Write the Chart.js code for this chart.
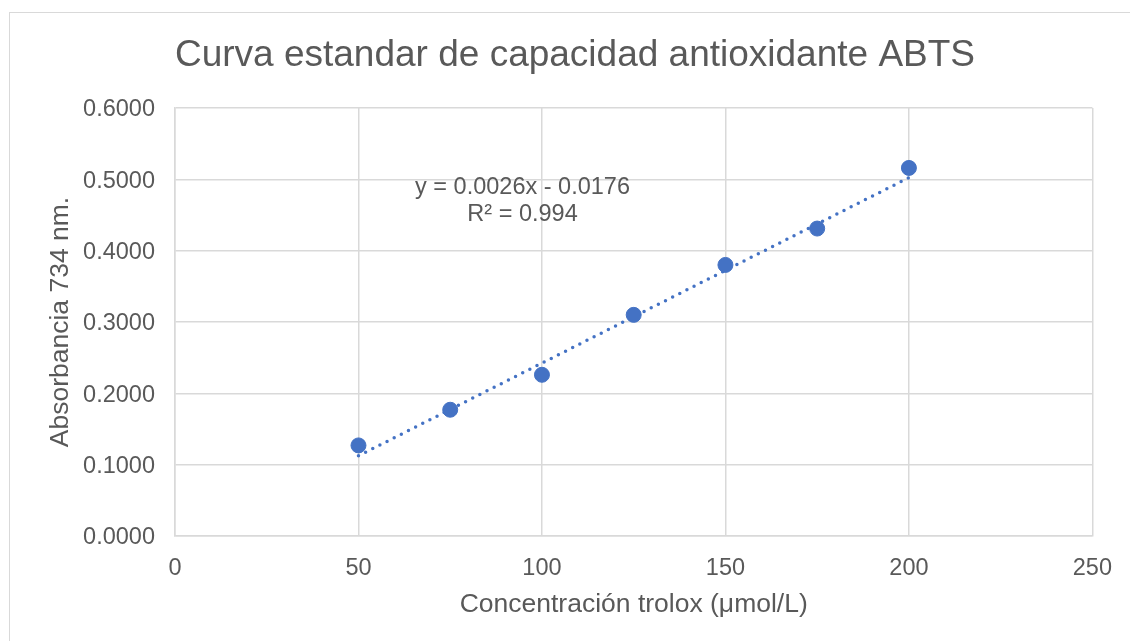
<!DOCTYPE html>
<html>
<head>
<meta charset="utf-8">
<script src="https://cdn.jsdelivr.net/npm/chart.js@4/dist/chart.umd.min.js"></script>
<style>
  html, body { margin: 0; padding: 0; background: #fff; overflow: hidden; }
  #wrap { position: relative; width: 1130px; height: 641px; }
  #marco { position: absolute; left: 9px; top: 12px; width: 1140px; height: 650px; border: 1px solid #d9d9d9; box-sizing: border-box; }
  canvas { position: absolute; left: 0; top: 0; }
</style>
</head>
<body>
<div id="wrap">
  <div id="marco"></div>
  <canvas id="grafico" width="1130" height="641"></canvas>
</div>
<script>
// Datos
const concentraciones = [50, 75, 100, 125, 150, 175, 200];
const absorbancias = [0.127, 0.177, 0.226, 0.310, 0.380, 0.431, 0.516];
const tendenciaX = [50, 200];
const tendenciaY = [0.1124, 0.5024];
const ecuacion = ["y = 0.0026x - 0.0176", "R\u00b2 = 0.994"];
const ticksY = [0, 0.1, 0.2, 0.3, 0.4, 0.5, 0.6];
const titulo = 'Curva estandar de capacidad antioxidante ABTS';

const gris = '#595959';
const rejilla = '#d9d9d9';
const azul = '#4472C4';
const fuente = "'Liberation Sans', Arial, sans-serif";

// Titulo y ecuacion de la linea de tendencia
const textosExtra = {
    id: 'textosExtra',
    afterDatasetsDraw(chart) {
        const ctx = chart.ctx;
        ctx.save();
        ctx.fillStyle = gris;
        ctx.textAlign = 'center';
        ctx.textBaseline = 'middle';

        ctx.font = '37px ' + fuente;
        ctx.fillText(titulo, 575, 56);

        const x = chart.scales.x.getPixelForValue(94.7);
        const y = chart.scales.y.getPixelForValue(0.488);
        ctx.font = '23.5px ' + fuente;
        ecuacion.forEach(function(linea, i) {
            ctx.fillText(linea, x, y + i * 27);
        });
        ctx.restore();
    }
};

const ctx = document.getElementById('grafico').getContext('2d');
const grafico = new Chart(ctx, {
    type: 'scatter',
    data: {
        datasets: [{
            label: 'Absorbancia',
            data: concentraciones.map((c, i) => ({ x: c, y: absorbancias[i] })),
            backgroundColor: azul,
            borderColor: azul,
            pointRadius: 7.5,
            pointHoverRadius: 7.5,
            order: 1
        }, {
            label: 'Tendencia',
            type: 'line',
            data: tendenciaX.map((c, i) => ({ x: c, y: tendenciaY[i] })),
            borderColor: azul,
            borderWidth: 3.5,
            borderDash: [0, 8],
            borderCapStyle: 'round',
            pointRadius: 0,
            fill: false,
            order: 2
        }]
    },
    options: {
        responsive: false,
        animation: false,
        devicePixelRatio: 1,
        layout: { padding: { left: 0, right: 37, top: 108, bottom: 0 } },
        plugins: {
            legend: { display: false },
            tooltip: { enabled: false },
            title: { display: false }
        },
        scales: {
            x: {
                type: 'linear',
                min: 0,
                max: 250,
                afterFit: function(scale) { scale.height = 105; },
                ticks: { stepSize: 50, color: gris, padding: 18, font: { family: fuente, size: 23.5 } },
                grid: { color: rejilla, lineWidth: 1.5, drawTicks: false },
                border: { color: rejilla, width: 1.5 },
                title: {
                    display: true,
                    text: 'Concentración trolox (μmol/L)',
                    color: gris,
                    font: { family: fuente, size: 26.5, lineHeight: 1.2 },
                    padding: { bottom: 20 }
                }
            },
            y: {
                type: 'linear',
                min: 0,
                max: 0.6,
                afterFit: function(scale) { scale.width = 175; },
                afterBuildTicks: function(scale) { scale.ticks = ticksY.map(v => ({ value: v })); },
                ticks: {
                    color: gris,
                    padding: 20,
                    labelOffset: 2,
                    font: { family: fuente, size: 23.5 },
                    callback: v => v.toFixed(4)
                },
                grid: { color: rejilla, lineWidth: 1.5, drawTicks: false },
                border: { color: rejilla, width: 1.5 },
                title: {
                    display: true,
                    text: 'Absorbancia 734 nm.',
                    color: gris,
                    font: { family: fuente, size: 26.5, lineHeight: 1.2 },
                    padding: { top: 45 }
                }
            }
        }
    },
    plugins: [textosExtra]
});
</script>
</body>
</html>
